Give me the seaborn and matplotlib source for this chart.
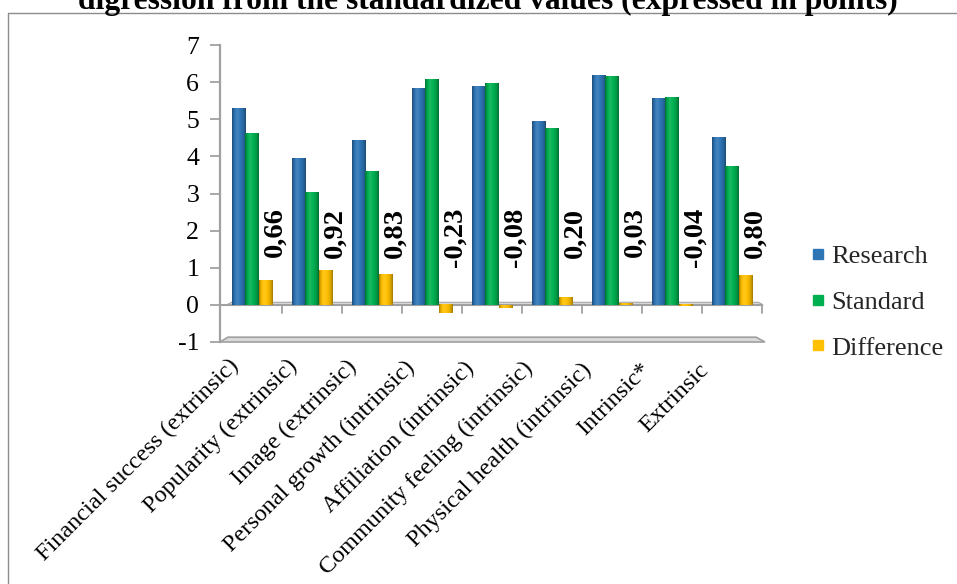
import numpy as np
import pandas as pd
import matplotlib
matplotlib.use("Agg")
import matplotlib.pyplot as plt
import matplotlib.transforms as mtransforms
from matplotlib.patches import Polygon
from matplotlib.lines import Line2D
from matplotlib.colors import to_rgb
import seaborn as sns

# ---- data -------------------------------------------------------------
categories = [
    "Financial success (extrinsic)",
    "Popularity (extrinsic)",
    "Image (extrinsic)",
    "Personal growth (intrinsic)",
    "Affiliation (intrinsic)",
    "Community feeling (intrinsic)",
    "Physical health (intrinsic)",
    "Intrinsic*",
    "Extrinsic",
]
research = [5.29, 3.95, 4.42, 5.84, 5.88, 4.95, 6.18, 5.55, 4.52]
standard = [4.63, 3.03, 3.59, 6.07, 5.96, 4.75, 6.15, 5.59, 3.72]
difference = [0.66, 0.92, 0.83, -0.23, -0.08, 0.20, 0.03, -0.04, 0.80]
series_names = ["Research", "Standard", "Difference"]
series_colors = ["#2E75B6", "#00B050", "#FFC000"]
y_ticks = [-1, 0, 1, 2, 3, 4, 5, 6, 7]
title = "digression from the standardized values (expressed in points)"

df = pd.DataFrame({
    "category": categories * 3,
    "series": [s for s in series_names for _ in categories],
    "value": research + standard + difference,
})

# ---- style ------------------------------------------------------------
sns.set_style("white")
plt.rcParams["font.family"] = ["Liberation Serif", "DejaVu Serif"]

W, H = 957, 584
fig = plt.figure(figsize=(W / 100, H / 100), dpi=100)
ax = fig.add_axes([220 / W, 1 - 342 / H, 545 / W, 297 / H])

sns.barplot(data=df, x="category", y="value", hue="series",
            order=categories, hue_order=series_names,
            palette=series_colors, saturation=1, width=0.68,
            legend=False, ax=ax, zorder=3)

XL = (-0.533, 8.55)
YL = (-1, 7)


def shade(rgb, f):
    rgb = np.array(rgb)
    if f >= 1:
        return rgb + (1 - rgb) * (f - 1)
    return rgb * f


# cylindrical shading on every bar
prof_t = np.array([0.0, 0.12, 0.35, 0.6, 0.85, 1.0])
prof_f = np.array([0.62, 0.9, 1.12, 1.0, 0.85, 0.62])
ts = np.linspace(0, 1, 48)
fs = np.interp(ts, prof_t, prof_f)
for p in list(ax.patches):
    h = p.get_height()
    if h == 0 or np.isnan(h):
        continue
    x, y, w = p.get_x(), p.get_y(), p.get_width()
    base = to_rgb(p.get_facecolor())
    grad = np.array([[np.clip(shade(base, f), 0, 1) for f in fs]])
    ax.imshow(grad, extent=(x, x + w, min(y, y + h), max(y, y + h)),
              aspect="auto", interpolation="bicubic", zorder=3.5)
    p.set_edgecolor("none")

ax.set_xlim(*XL)
ax.set_ylim(*YL)

# floor at zero with category separators
ax.add_patch(Polygon([(-0.42, 0), (-0.34, 0.07), (8.44, 0.07), (8.52, 0)],
                     closed=True, facecolor="#D9D9D9", edgecolor="#A6A6A6",
                     lw=0.8, zorder=2))
ax.plot([XL[0], 8.52], [0, 0], color="#A0A0A0", lw=1.5, zorder=2.5,
        solid_capstyle="butt")
for k in range(9):
    ax.plot([k + 0.5, k + 0.5], [0, -0.22], color="#A0A0A0", lw=1.3,
            zorder=2.5)

# base platform at -1
ax.add_patch(Polygon([(XL[0], -1), (-0.4, -0.87), (8.4, -0.87), (8.55, -1)],
                     closed=True, facecolor="#D9D9D9", edgecolor="#A0A0A0",
                     lw=1.2, zorder=2, clip_on=False))

# data labels for the difference series
for i, v in enumerate(difference):
    ax.text(i + 0.38, 2.62, f"{v:.2f}".replace(".", ","), rotation=90,
            ha="center", va="top", fontsize=20.5, fontweight="bold",
            color="black", zorder=5)

# axes styling
for s in ["top", "right", "bottom"]:
    ax.spines[s].set_visible(False)
ax.spines["left"].set_color("#A0A0A0")
ax.spines["left"].set_linewidth(1.6)
ax.set_yticks(y_ticks)
ax.set_yticklabels([str(t) for t in y_ticks], fontsize=18.5, color="black")
ax.tick_params(axis="y", length=7, width=1.3, color="#A0A0A0", pad=8,
               direction="out", left=True)
ax.set_xticks(range(len(categories)))
ax.set_xticklabels(categories, rotation=45, ha="right", va="top",
                   rotation_mode="anchor", fontsize=17.5, color="black")
ax.tick_params(axis="x", length=0, pad=9)
# labels drift slightly left and down along the receding floor
for i, lab in enumerate(ax.get_xticklabels()):
    shift = mtransforms.ScaledTranslation((-24 - 1.2 * i) / 100,
                                          (-0.7 * i) / 100,
                                          fig.dpi_scale_trans)
    lab.set_transform(lab.get_transform() + shift)
ax.set_xlabel("")
ax.set_ylabel("")
ax.grid(False)
ax.set_facecolor("none")

# legend
handles = [Line2D([], [], marker="s", linestyle="none", markersize=7.5,
                  markerfacecolor=c, markeredgecolor=c) for c in series_colors]
fig.legend(handles, series_names, loc="center left",
           bbox_to_anchor=(811 / W, 1 - 302 / H), frameon=False,
           fontsize=19, handlelength=0.5, handletextpad=0.25,
           labelspacing=0.85, borderpad=0, borderaxespad=0)

# title (top of the figure) and frame
fig.text(488 / W, 1 - 9 / H, title, ha="center", va="baseline",
         fontsize=22.7, fontweight="bold", color="black")
fig.add_artist(Line2D([8 / W, 8 / W], [0, 1 - 13 / H],
                      transform=fig.transFigure, color="#8C8C8C", lw=1))
fig.add_artist(Line2D([8 / W, 1], [1 - 13 / H, 1 - 13 / H],
                      transform=fig.transFigure, color="#8C8C8C", lw=1))

fig.savefig("out.png", dpi=100)
